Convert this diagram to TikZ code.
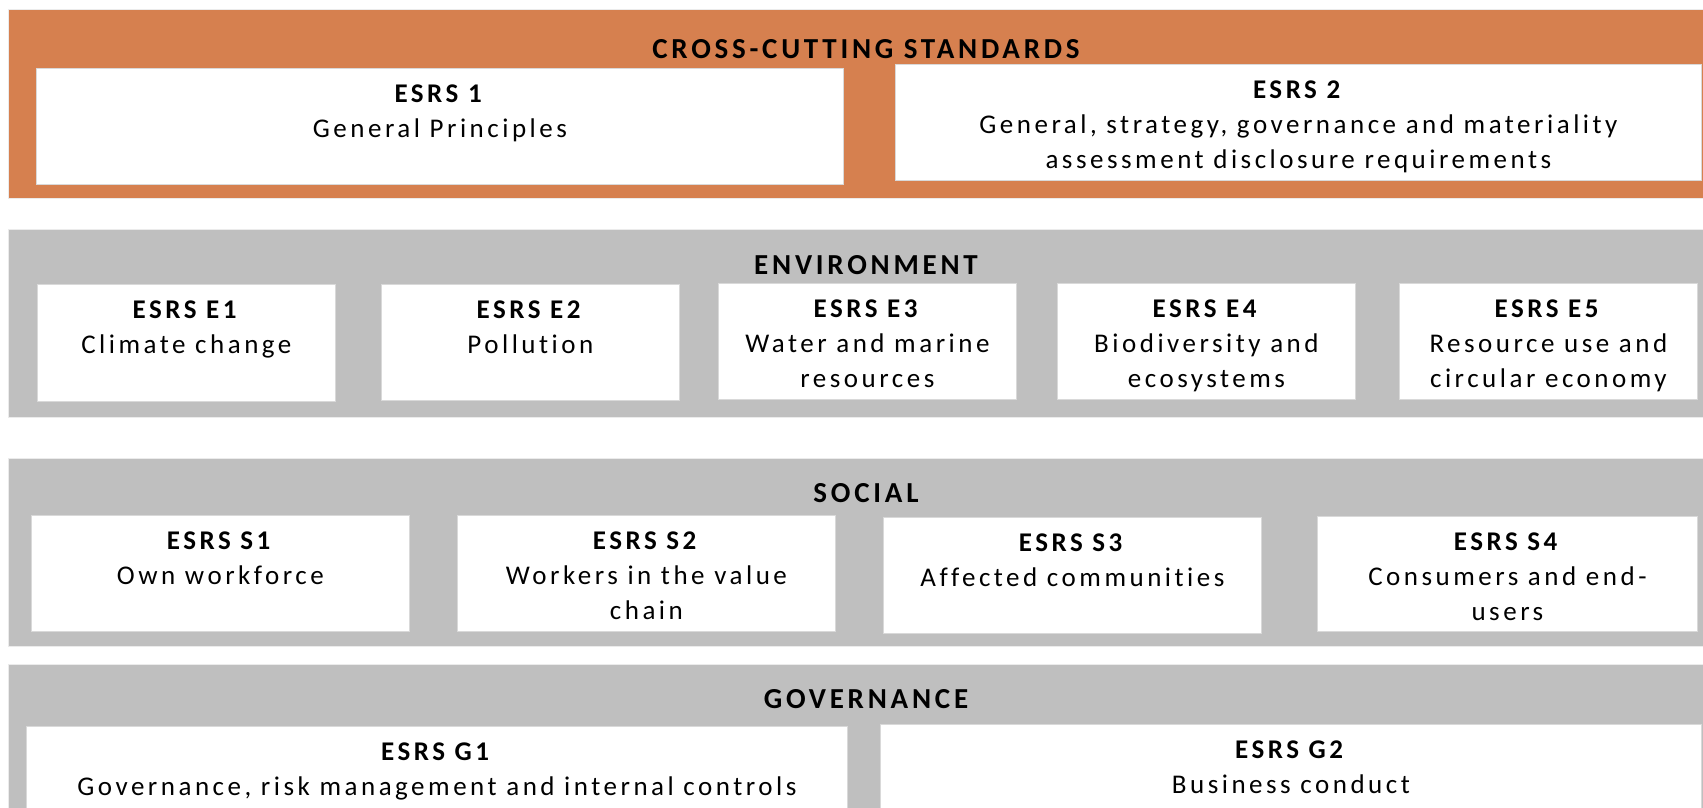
\documentclass[tikz,border=0pt]{standalone}
\usepackage{fontspec}
\setmainfont{Carlito}[LetterSpace=13, Ligatures={NoCommon}]
\definecolor{orangeband}{HTML}{D6804F}
\definecolor{grayband}{HTML}{BFBFBF}
\definecolor{boxedge}{HTML}{D9D9D9}
\tikzset{
  bandbox/.style={fill=#1, draw=black!8, line width=0.8pt, anchor=north west, inner sep=0pt},
  stdbox/.style={fill=white, draw=boxedge, line width=0.8pt, anchor=north west, inner sep=0pt},
  bandtitle/.style={font=\fontsize{29}{34}\selectfont\bfseries, inner sep=0pt},
  boxtext/.style={font=\fontsize{27}{35}\selectfont, align=center, anchor=north, inner sep=0pt}
}
\newcommand{\boxat}[6]{% name, x1, y1, x2, y2, text
  \node[stdbox, minimum width={(#4-#2)*1pt}, minimum height={(#5-#3)*1pt}] (#1) at (#2,#3) {};
  \node[boxtext] (#1t) at ([yshift=-17pt]#1.north) {#6};
}
\begin{document}
\begin{tikzpicture}[x=1pt,y=-1pt]
\path[fill=white,use as bounding box] (0,0) rectangle (1703,808);
% bands
\node[bandbox=orangeband, minimum width=1700pt, minimum height=189pt] (cross) at (8,9) {};
\node[bandbox=grayband, minimum width=1700pt, minimum height=188pt] (env) at (8,229) {};
\node[bandbox=grayband, minimum width=1700pt, minimum height=188pt] (soc) at (8,458) {};
\node[bandbox=grayband, minimum width=1700pt, minimum height=150pt] (gov) at (8,664) {};
% titles
\node[bandtitle] (crosst) at (866,49.5) {CROSS-CUTTING STANDARDS};
\node[bandtitle] (envt) at (866,265.5) {ENVIRONMENT};
\node[bandtitle] (soct) at (866,493.5) {SOCIAL};
\node[bandtitle] (govt) at (866,699.5) {GOVERNANCE};
% cross-cutting
\boxat{esrsa}{36}{68}{843}{184}{\textbf{ESRS 1}\\General Principles}
\boxat{esrsb}{895}{64}{1701}{180}{\textbf{ESRS 2}\\General, strategy, governance and materiality\\assessment disclosure requirements}
% environment
\boxat{ea}{37}{284}{335}{401}{\textbf{ESRS E1}\\Climate change}
\boxat{eb}{381}{284}{679}{400}{\textbf{ESRS E2}\\Pollution}
\boxat{ec}{718}{283}{1016}{399}{\textbf{ESRS E3}\\Water and marine\\resources}
\boxat{ed}{1057}{283}{1355}{399}{\textbf{ESRS E4}\\Biodiversity and\\ecosystems}
\boxat{ee}{1399}{283}{1697}{399}{\textbf{ESRS E5}\\Resource use and\\circular economy}
% social
\boxat{sa}{31}{515}{409}{631}{\textbf{ESRS S1}\\Own workforce}
\boxat{sb}{457}{515}{835}{631}{\textbf{ESRS S2}\\Workers in the value\\chain}
\boxat{sc}{883}{517}{1261}{633}{\textbf{ESRS S3}\\Affected communities}
\boxat{sd}{1317}{516}{1697}{631}{\textbf{ESRS S4}\\Consumers and end-\\users}
% governance
\boxat{ga}{26}{726}{847}{812}{\textbf{ESRS G1}\\Governance, risk management and internal controls}
\boxat{gb}{880}{724}{1701}{812}{\textbf{ESRS G2}\\Business conduct}
\end{tikzpicture}
\end{document}
